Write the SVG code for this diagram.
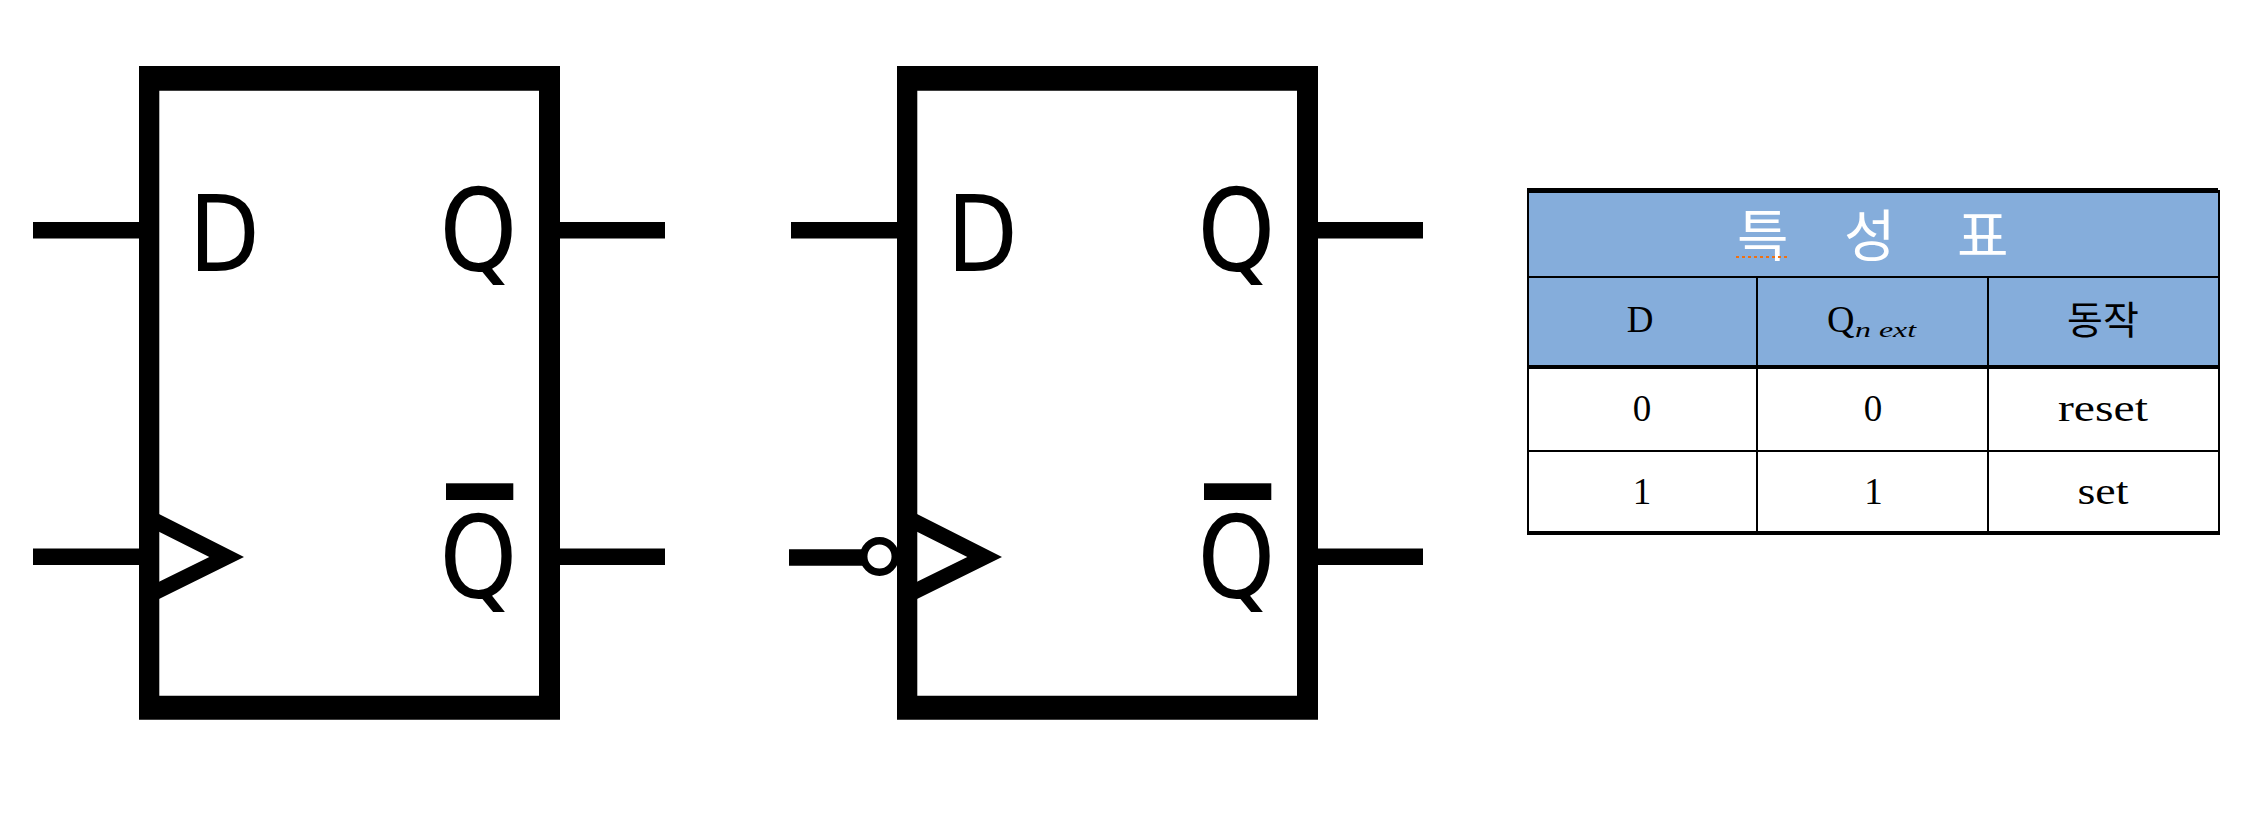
<svg xmlns="http://www.w3.org/2000/svg" width="2259" height="817" viewBox="0 0 2259 817">
<style>
.wire{stroke:#000;stroke-width:16.500;fill:none}
.sym{font-family:"DejaVu Sans",sans-serif;fill:#000}
.d{font-size:105.600px}
.q{font-size:114px}
.cell{font-family:"Liberation Serif","Noto Sans CJK KR",serif;font-size:37px;fill:#000;text-anchor:middle}
.ko{font-family:"Noto Sans CJK KR",sans-serif}
.rule{stroke:#000;fill:none}
</style>
<rect width="2259" height="817" fill="#fff"/>
<g id="connectors">
<line class="wire" x1="33" y1="230.200" x2="139" y2="230.200"/>
<line class="wire" x1="560" y1="230.200" x2="665" y2="230.200"/>
<line class="wire" x1="33" y1="556.700" x2="139" y2="556.700"/>
<line class="wire" x1="560" y1="556.700" x2="665" y2="556.700"/>
<line class="wire" x1="791" y1="230.200" x2="897" y2="230.200"/>
<line class="wire" x1="1318" y1="230.200" x2="1423" y2="230.200"/>
<line class="wire" x1="789" y1="557.500" x2="866" y2="557.500"/>
<line class="wire" x1="1318" y1="556.700" x2="1423" y2="556.700"/>
</g>
<g id="flipflop-rising">
<path fill-rule="evenodd" d="M139 66H560V719.700H139ZM159.300 90.700V695.700H539V90.700Z"/>
<path d="M159 514L244 557L159 599V581.700L209.300 557L159 531.700Z"/>
<text class="sym d" x="189" y="271" textLength="70.700" lengthAdjust="spacingAndGlyphs">D</text>
<text class="sym q" x="439.500" y="271" textLength="77.700" lengthAdjust="spacingAndGlyphs">Q</text>
<rect x="446" y="483.300" width="67.300" height="16.700"/>
<text class="sym q" x="439.500" y="598.300" textLength="77.700" lengthAdjust="spacingAndGlyphs">Q</text>
</g>
<g id="flipflop-falling">
<path fill-rule="evenodd" d="M897 66H1318V719.700H897ZM917.300 90.700V695.700H1297V90.700Z"/>
<path d="M917 514L1002 557L917 599V581.700L967.300 557L917 531.700Z"/>
<circle cx="879.500" cy="556.500" r="15.800" fill="#fff" stroke="#000" stroke-width="7.500"/>
<text class="sym d" x="947" y="271" textLength="70.700" lengthAdjust="spacingAndGlyphs">D</text>
<text class="sym q" x="1197.500" y="271" textLength="77.700" lengthAdjust="spacingAndGlyphs">Q</text>
<rect x="1204" y="483.300" width="67.300" height="16.700"/>
<text class="sym q" x="1197.500" y="598.300" textLength="77.700" lengthAdjust="spacingAndGlyphs">Q</text>
</g>
<g id="characteristic-table">
<rect x="1527" y="190" width="693" height="177" fill="#85ADDB"/>
<rect x="1527" y="367" width="693" height="166" fill="#fff"/>
<line class="rule" stroke-width="5" x1="1527" y1="190.500" x2="2218" y2="190.500"/>
<line class="rule" stroke-width="2" x1="1527" y1="277" x2="2220" y2="277"/>
<line class="rule" stroke-width="4" x1="1527" y1="367" x2="2220" y2="367"/>
<line class="rule" stroke-width="2" x1="1527" y1="451" x2="2220" y2="451"/>
<line class="rule" stroke-width="4" x1="1527" y1="533" x2="2220" y2="533"/>
<line class="rule" stroke-width="2" x1="1528" y1="188" x2="1528" y2="535"/>
<line class="rule" stroke-width="2" x1="2219" y1="190" x2="2219" y2="535"/>
<line class="rule" stroke-width="2" x1="1757" y1="277" x2="1757" y2="533"/>
<line class="rule" stroke-width="2" x1="1988" y1="277" x2="1988" y2="533"/>
<text class="ko" font-size="56" fill="#fff" x="1737 1790 1844 1905 1957" y="256">특 성 표</text>
<line x1="1736" y1="257" x2="1787" y2="257" stroke="#F07010" stroke-width="2" stroke-dasharray="3 3"/>
<text class="cell" x="1640" y="332" font-size="38">D</text>
<text class="cell" x="1827" y="332" style="text-anchor:start;font-size:38px">Q</text>
<text class="cell" x="1855" y="337" style="text-anchor:start;font-size:22px;font-style:italic" textLength="61" lengthAdjust="spacingAndGlyphs">n ext</text>
<text class="cell" style="font-family:'Noto Sans CJK KR',sans-serif;font-size:39px" x="2103" y="334">동작</text>
<text class="cell" x="1642" y="421">0</text>
<text class="cell" x="1873" y="421">0</text>
<text class="cell" x="2103" y="421" textLength="90" lengthAdjust="spacingAndGlyphs">reset</text>
<text class="cell" x="1642" y="504">1</text>
<text class="cell" x="1873.500" y="504">1</text>
<text class="cell" x="2103" y="504" textLength="51" lengthAdjust="spacingAndGlyphs">set</text>
</g>
</svg>
